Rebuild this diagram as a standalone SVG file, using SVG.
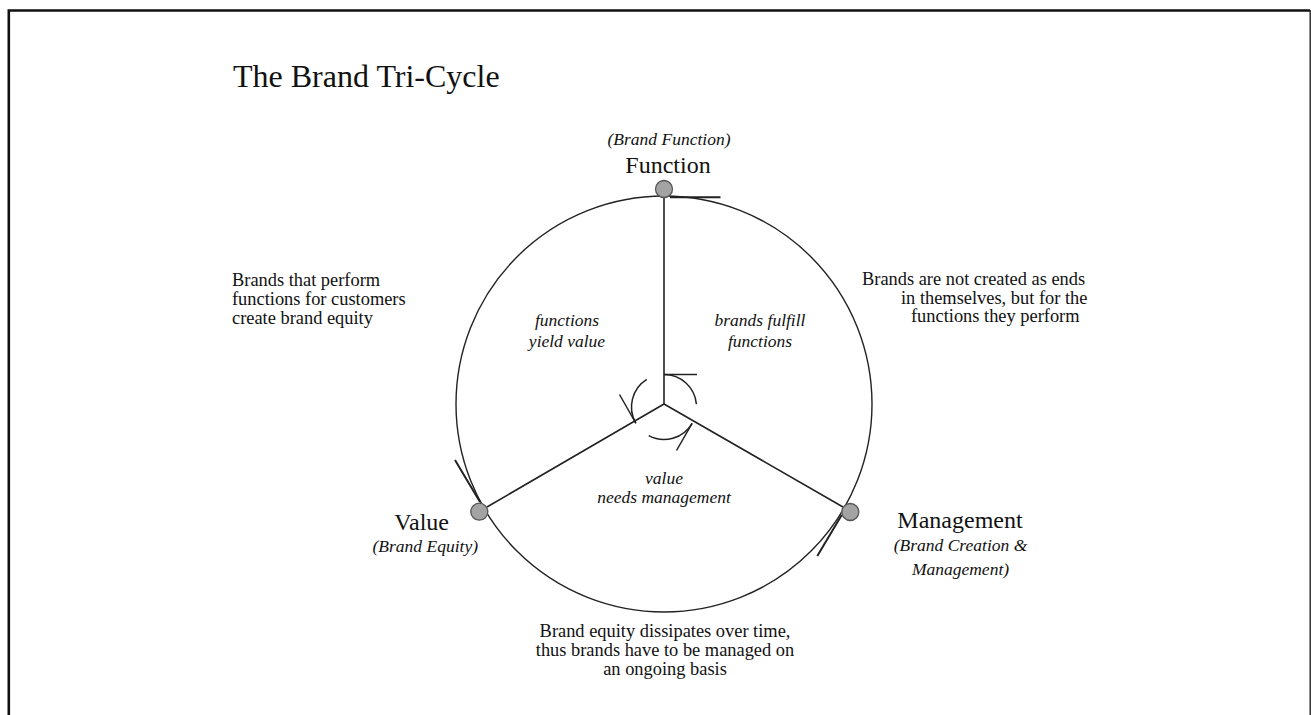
<svg xmlns="http://www.w3.org/2000/svg" width="1311" height="715" viewBox="0 0 1311 715">
<style>
.t{font-family:"Liberation Serif","Times New Roman",serif;fill:#111}
.body{font-size:18.4px}
.it{font-style:italic;font-size:17.5px}
.lab{font-size:24px}
.ln{stroke:#222;fill:none}
.node{fill:#a3a3a3;stroke:#555;stroke-width:1.3}
</style>
<rect width="1311" height="715" fill="#fff"/>
<path d="M8.8 800 V10.5 H1310" fill="none" stroke="#111" stroke-width="2.6"/>
<path d="M1310.2 10 V715" fill="none" stroke="#222" stroke-width="1.4"/>
<text class="t" x="233" y="87" font-size="32">The Brand Tri-Cycle</text>
<g id="connectors">
<circle class="ln" cx="664" cy="404" r="208" stroke-width="1.4"/>
<path class="ln" stroke-width="1.6" d="M664 404 V197 M664 404 L487 507 M664 404 L843 507"/>
<path class="ln" stroke-width="2" d="M670 197.3 H720.5 M480 502 L455 460 M841.7 515 L817.3 556"/>
<path class="ln" stroke-width="1.5" d="M664 374.5 A32.5 32.5 0 0 1 696.4 404.2 M692.1 423.3 A32.5 32.5 0 0 1 648.7 435.7 M635.85 423.25 A32.5 32.5 0 0 1 646.8 379.4"/>
<path class="ln" stroke-width="1.5" d="M664 374.5 H697 M692.1 423.3 L676.5 450.5 M635.85 423.25 L619.5 394.5"/>
</g>
<g id="function">
<circle class="node" cx="664" cy="189" r="8.5"/>
<text class="t it" x="669" y="145" text-anchor="middle" font-size="18.3">(Brand Function)</text>
<text class="t lab" x="668" y="172.5" text-anchor="middle">Function</text>
</g>
<g id="value">
<circle class="node" cx="479.3" cy="511.7" r="8.5"/>
<text class="t lab" x="449" y="530" text-anchor="end">Value</text>
<text class="t it" x="478" y="552" text-anchor="end" font-size="18">(Brand Equity)</text>
</g>
<g id="management">
<circle class="node" cx="850.3" cy="512" r="8.5"/>
<text class="t lab" x="960" y="528" text-anchor="middle">Management</text>
<text class="t it" x="960.5" y="551" text-anchor="middle" font-size="17.8">(Brand Creation &amp;</text>
<text class="t it" x="960.5" y="575" text-anchor="middle" font-size="17.5">Management)</text>
</g>
<g id="inner-labels">
<text class="t it" x="567" y="326" text-anchor="middle">functions</text>
<text class="t it" x="567" y="347" text-anchor="middle">yield value</text>
<text class="t it" x="760" y="326" text-anchor="middle">brands fulfill</text>
<text class="t it" x="760" y="347" text-anchor="middle">functions</text>
<text class="t it" x="664" y="484" text-anchor="middle">value</text>
<text class="t it" x="664" y="503" text-anchor="middle">needs management</text>
</g>
<g id="notes">
<text class="t body" x="232" y="286">Brands that perform</text>
<text class="t body" x="232" y="305">functions for customers</text>
<text class="t body" x="232" y="323.5">create brand equity</text>
<text class="t body" x="862" y="285">Brands are not created as ends</text>
<text class="t body" x="901" y="303.5">in themselves, but for the</text>
<text class="t body" x="911" y="322">functions they perform</text>
<text class="t body" x="665" y="637" text-anchor="middle">Brand equity dissipates over time,</text>
<text class="t body" x="665" y="656" text-anchor="middle">thus brands have to be managed on</text>
<text class="t body" x="665" y="675" text-anchor="middle">an ongoing basis</text>
</g>
</svg>
